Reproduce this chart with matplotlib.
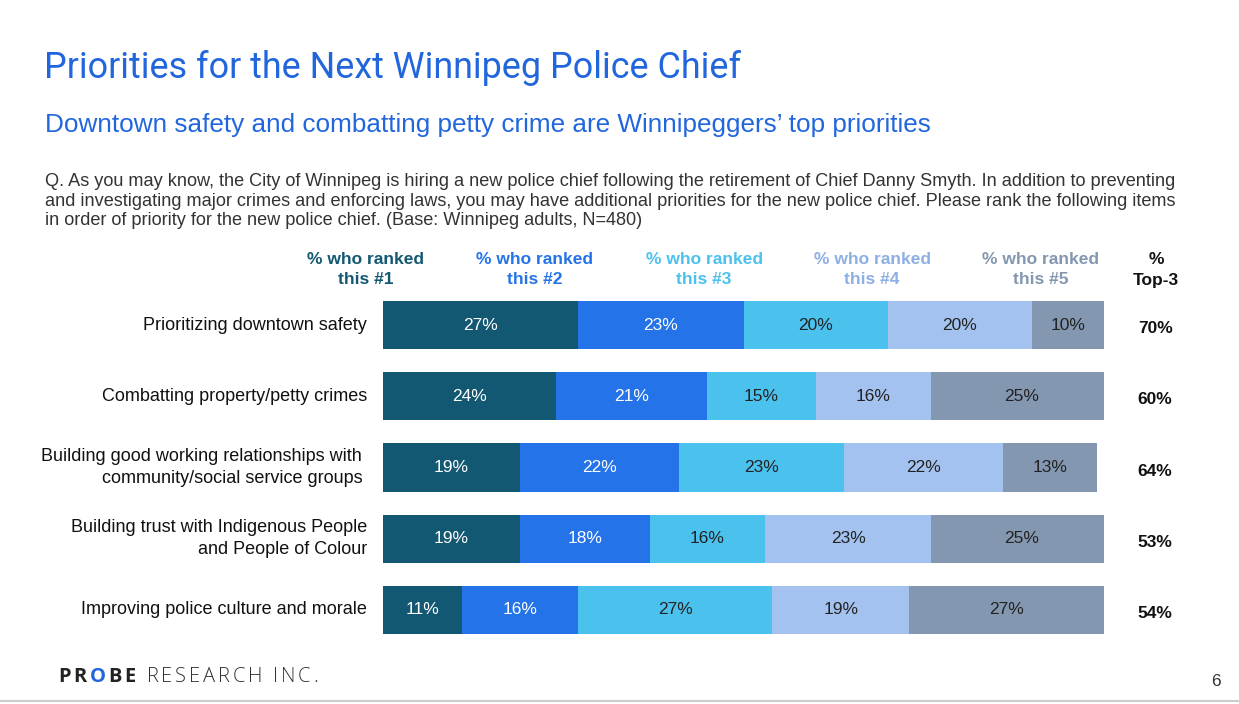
import matplotlib.pyplot as plt
from matplotlib import font_manager

categories = [
    "Prioritizing downtown safety",
    "Combatting property/petty crimes",
    "Building good working relationships with \ncommunity/social service groups ",
    "Building trust with Indigenous People\nand People of Colour",
    "Improving police culture and morale",
]
rank1 = [27, 24, 19, 19, 11]
rank2 = [23, 21, 22, 18, 16]
rank3 = [20, 15, 23, 16, 27]
rank4 = [20, 16, 22, 23, 19]
rank5 = [10, 25, 13, 25, 27]
top3 = [70, 60, 64, 53, 54]
series_names = ["% who ranked\nthis #1", "% who ranked\nthis #2", "% who ranked\nthis #3",
                "% who ranked\nthis #4", "% who ranked\nthis #5"]

bar_colors = ["#135872", "#2473E8", "#4BC1EE", "#A3C2F0", "#8497B0"]
head_colors = ["#135872", "#2473E8", "#4BC1EE", "#8EAEE6", "#8497B0"]
label_colors = ["white", "white", "#222222", "#222222", "#222222"]

W, H = 1239, 704
plt.rcParams["font.family"] = ["Liberation Sans", "DejaVu Sans"]

names = {f.name for f in font_manager.fontManager.ttflist}
narrow = "Liberation Sans Narrow" if "Liberation Sans Narrow" in names else "Roboto"

fig = plt.figure(figsize=(W / 100, H / 100), dpi=100)


def fx(px):
    return px / W


def fy(py):
    return 1 - py / H


# bar area: 0..100 maps to x 383..1104 px, rows centred at 325..610 px
ax = fig.add_axes([fx(383), fy(645.6), fx(1104) - fx(383), fy(289.4) - fy(645.6)])
ax.set_xlim(0, 100)
ax.set_ylim(4.5, -0.5)
ax.axis("off")

series = [rank1, rank2, rank3, rank4, rank5]
ypos = list(range(len(categories)))
left = [0] * len(categories)
for i, vals in enumerate(series):
    ax.barh(ypos, vals, left=left, height=0.674, color=bar_colors[i], edgecolor="none")
    for y, v, l in zip(ypos, vals, left):
        ax.text(l + v / 2, y, f"{v}%", ha="center", va="center", fontsize=12.5,
                color=label_colors[i])
    left = [l + v for l, v in zip(left, vals)]

for y, cat, t in zip(ypos, categories, top3):
    ax.text(-2.2, y, cat, ha="right", va="center", fontsize=13, color="#111111",
            linespacing=1.38)
    ax.text(107.1, y + 0.05, f"{t}%", ha="center", va="center", fontsize=12.5,
            fontweight="bold", color="#111111")

# column headers
head_x = [366, 535, 704, 872, 1041]
for x, name, c in zip(head_x, series_names, head_colors):
    fig.text(fx(x), fy(269.5), name, ha="center", va="center", fontsize=12.5,
             fontweight="bold", color=c, linespacing=1.5)
fig.text(fx(1156), fy(269.5), "%\nTop-3", ha="center", va="center", fontsize=12.5,
         fontweight="bold", color="#111111", linespacing=1.5)

# titles
fig.text(fx(44), fy(68), "Priorities for the Next Winnipeg Police Chief", ha="left",
         va="center", fontsize=25.8, color="#2266DD", family=[narrow, "DejaVu Sans"])
fig.text(fx(45), fy(125), "Downtown safety and combatting petty crime are Winnipeggers\u2019 top priorities",
         ha="left", va="center", fontsize=18.8, color="#2266DD")
question = ("Q. As you may know, the City of Winnipeg is hiring a new police chief following the retirement of Chief Danny Smyth. In addition to preventing\n"
            "and investigating major crimes and enforcing laws, you may have additional priorities for the new police chief. Please rank the following items\n"
            "in order of priority for the new police chief. (Base: Winnipeg adults, N=480)")
fig.text(fx(45), fy(201), question, ha="left", va="center", fontsize=13.1,
         color="#333333", linespacing=1.22)

# footer logo, drawn letter by letter for the wide tracking
fig.canvas.draw()
renderer = fig.canvas.get_renderer()
x = 58
for part, c, w in [("PROBE", None, "bold"), (" RESEARCH INC.", "#333333", "light")]:
    for ch in part:
        col = c or ("#2266DD" if ch == "O" else "#222222")
        t = fig.text(fx(x), fy(677), ch, ha="left", va="center", fontsize=14.5, color=col,
                     fontweight=w, family=["Open Sans", "DejaVu Sans"])
        x += t.get_window_extent(renderer).width + 2.8
fig.text(fx(1216), fy(682), "6", ha="center", va="center", fontsize=12.5, color="#333333")
fig.add_artist(plt.Line2D([0, 1], [fy(701), fy(701)], color="#CCCCCC", lw=1.5))

fig.savefig("out.png", dpi=100, facecolor="white")
